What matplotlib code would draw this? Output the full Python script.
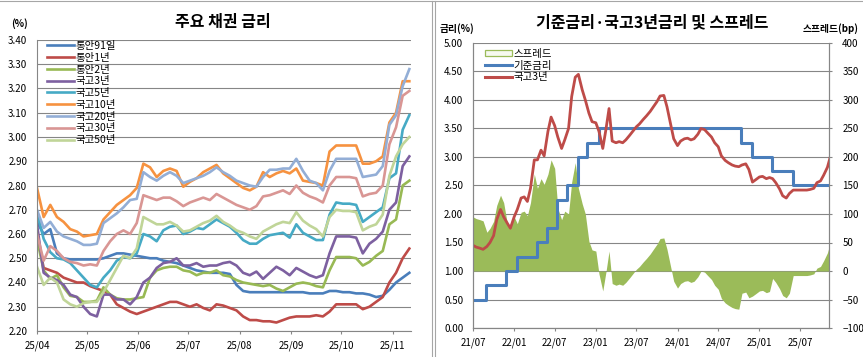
import numpy as np
import pandas as pd
import matplotlib
matplotlib.use('Agg')
import matplotlib.pyplot as plt
import matplotlib.dates as mdates
from matplotlib.patches import Patch
from matplotlib.lines import Line2D
from matplotlib.ticker import FormatStrFormatter

plt.rcParams['font.family'] = ['Noto Sans CJK KR', 'DejaVu Sans']

# ---------------- Left chart data: 주요 채권 금리 (4-day sampling from 2025-04-01) ----------------
left_dates = pd.date_range('2025-04-01', periods=57, freq='4D')

msb_91d = [2.65, 2.60, 2.62, 2.52, 2.50, 2.495, 2.495, 2.495, 2.495, 2.495, 2.50, 2.51, 2.52, 2.52, 2.515, 2.51, 2.505, 2.50, 2.50,
           2.49, 2.485, 2.48, 2.47, 2.46, 2.45, 2.445, 2.44, 2.44, 2.44, 2.435, 2.39, 2.365, 2.36, 2.36, 2.36, 2.36, 2.36, 2.36,
           2.36, 2.36, 2.36, 2.355, 2.355, 2.355, 2.365, 2.365, 2.36, 2.36, 2.355, 2.355, 2.35, 2.34, 2.345, 2.37, 2.40, 2.42, 2.44]
msb_1y = [2.60, 2.46, 2.45, 2.44, 2.42, 2.41, 2.40, 2.40, 2.385, 2.375, 2.365, 2.35, 2.31, 2.295, 2.28, 2.27, 2.28, 2.29, 2.30,
          2.31, 2.32, 2.32, 2.31, 2.30, 2.31, 2.295, 2.285, 2.31, 2.305, 2.295, 2.285, 2.26, 2.245, 2.245, 2.24, 2.24, 2.235, 2.245,
          2.255, 2.26, 2.26, 2.26, 2.265, 2.26, 2.28, 2.31, 2.31, 2.31, 2.31, 2.29, 2.30, 2.32, 2.34, 2.40, 2.44, 2.50, 2.54]
msb_2y = [2.58, 2.45, 2.415, 2.43, 2.38, 2.345, 2.34, 2.32, 2.32, 2.325, 2.38, 2.35, 2.335, 2.33, 2.33, 2.335, 2.34, 2.42, 2.45,
          2.46, 2.465, 2.465, 2.45, 2.445, 2.43, 2.44, 2.44, 2.45, 2.43, 2.425, 2.41, 2.40, 2.395, 2.39, 2.385, 2.39, 2.375, 2.365,
          2.38, 2.395, 2.40, 2.395, 2.385, 2.38, 2.45, 2.505, 2.505, 2.505, 2.50, 2.47, 2.485, 2.51, 2.53, 2.64, 2.66, 2.80, 2.82]
ktb_3y = [2.64, 2.44, 2.42, 2.41, 2.39, 2.35, 2.34, 2.30, 2.27, 2.26, 2.35, 2.35, 2.33, 2.33, 2.31, 2.34, 2.40, 2.42, 2.46,
          2.48, 2.485, 2.50, 2.47, 2.47, 2.48, 2.465, 2.47, 2.47, 2.48, 2.485, 2.47, 2.44, 2.43, 2.445, 2.415, 2.44, 2.465, 2.45,
          2.43, 2.46, 2.445, 2.43, 2.42, 2.43, 2.52, 2.59, 2.59, 2.59, 2.585, 2.52, 2.56, 2.58, 2.61, 2.70, 2.73, 2.88, 2.92]
ktb_5y = [2.69, 2.58, 2.525, 2.50, 2.495, 2.48, 2.45, 2.42, 2.39, 2.38, 2.42, 2.45, 2.49, 2.505, 2.50, 2.52, 2.60, 2.59, 2.57,
          2.615, 2.63, 2.635, 2.60, 2.61, 2.625, 2.62, 2.64, 2.66, 2.645, 2.63, 2.605, 2.575, 2.56, 2.56, 2.58, 2.595, 2.60, 2.605,
          2.585, 2.64, 2.605, 2.59, 2.575, 2.575, 2.68, 2.73, 2.725, 2.725, 2.72, 2.65, 2.67, 2.69, 2.71, 2.83, 2.85, 3.03, 3.09]
ktb_10y = [2.79, 2.67, 2.72, 2.67, 2.65, 2.62, 2.61, 2.59, 2.595, 2.60, 2.66, 2.69, 2.72, 2.74, 2.76, 2.79, 2.89, 2.875, 2.835,
           2.86, 2.87, 2.86, 2.795, 2.815, 2.83, 2.855, 2.87, 2.885, 2.85, 2.83, 2.81, 2.79, 2.78, 2.795, 2.855, 2.835, 2.85, 2.86,
           2.85, 2.87, 2.82, 2.815, 2.81, 2.80, 2.94, 2.965, 2.965, 2.965, 2.965, 2.89, 2.89, 2.90, 2.92, 3.06, 3.10, 3.23, 3.23]
ktb_20y = [2.70, 2.625, 2.65, 2.61, 2.59, 2.58, 2.57, 2.555, 2.555, 2.56, 2.645, 2.665, 2.685, 2.71, 2.74, 2.745, 2.855, 2.835, 2.82,
           2.84, 2.855, 2.84, 2.81, 2.82, 2.83, 2.84, 2.855, 2.875, 2.855, 2.84, 2.82, 2.81, 2.80, 2.795, 2.835, 2.865, 2.865, 2.87,
           2.87, 2.91, 2.86, 2.82, 2.81, 2.78, 2.86, 2.91, 2.91, 2.91, 2.91, 2.835, 2.84, 2.845, 2.88, 3.05, 3.09, 3.21, 3.28]
ktb_30y = [2.60, 2.49, 2.55, 2.53, 2.50, 2.485, 2.48, 2.47, 2.475, 2.47, 2.53, 2.57, 2.60, 2.615, 2.60, 2.645, 2.76, 2.75, 2.74,
           2.75, 2.75, 2.735, 2.715, 2.73, 2.74, 2.75, 2.74, 2.765, 2.75, 2.735, 2.72, 2.71, 2.70, 2.715, 2.755, 2.76, 2.77, 2.78,
           2.765, 2.80, 2.77, 2.755, 2.745, 2.73, 2.80, 2.835, 2.835, 2.835, 2.83, 2.755, 2.765, 2.77, 2.80, 2.97, 3.04, 3.17, 3.19]
ktb_50y = [2.465, 2.39, 2.42, 2.40, 2.33, 2.31, 2.30, 2.315, 2.32, 2.32, 2.36, 2.41, 2.46, 2.51, 2.50, 2.54, 2.67, 2.655, 2.64,
           2.64, 2.65, 2.635, 2.61, 2.615, 2.63, 2.645, 2.655, 2.675, 2.65, 2.635, 2.615, 2.605, 2.59, 2.58, 2.61, 2.625, 2.64, 2.65,
           2.645, 2.69, 2.655, 2.635, 2.62, 2.59, 2.67, 2.70, 2.695, 2.695, 2.69, 2.615, 2.63, 2.64, 2.68, 2.84, 2.92, 2.97, 3.00]

left_names = ['통안91일', '통안1년', '통안2년', '국고3년', '국고5년', '국고10년', '국고20년', '국고30년', '국고50년']
left_series = [msb_91d, msb_1y, msb_2y, ktb_3y, ktb_5y, ktb_10y, ktb_20y, ktb_30y, ktb_50y]
left_colors = ['#4A7EBB', '#BE4B48', '#98B954', '#7D60A0', '#46AAC5', '#F69240', '#93AED6', '#D99694', '#C0D598']

# ---------------- Right chart data: 기준금리·국고3년금리 및 스프레드 ----------------
t3_dates = pd.date_range('2021-07-01', periods=106, freq='SMS')
ktb3 = [1.45, 1.42, 1.40, 1.38, 1.43, 1.50, 1.62, 1.90, 2.08, 1.95,
        1.84, 1.75, 1.95, 2.08, 2.28, 2.30, 2.22, 2.45, 2.95, 2.95,
        3.12, 3.02, 3.45, 3.70, 3.55, 3.35, 3.15, 3.30, 3.50, 4.06,
        4.40, 4.45, 4.18, 4.00, 3.77, 3.62, 3.60, 3.45, 3.15, 3.48,
        3.85, 3.28, 3.25, 3.27, 3.25, 3.30, 3.38, 3.45, 3.53, 3.58,
        3.66, 3.72, 3.80, 3.88, 3.97, 4.07, 4.08, 3.88, 3.58, 3.32,
        3.20, 3.28, 3.32, 3.33, 3.30, 3.32, 3.40, 3.50, 3.48, 3.42,
        3.35, 3.25, 3.18, 3.02, 2.94, 2.90, 2.86, 2.84, 2.83, 2.86,
        2.88, 2.78, 2.56, 2.60, 2.65, 2.66, 2.62, 2.64, 2.62, 2.55,
        2.44, 2.32, 2.28, 2.36, 2.42, 2.42, 2.42, 2.42, 2.42, 2.43,
        2.45, 2.55, 2.58, 2.68, 2.82, 3.02]

rate_dates = pd.to_datetime(['2021-07-01', '2021-08-26', '2021-11-25', '2022-01-14', '2022-04-14', '2022-05-26',
                             '2022-07-13', '2022-08-25', '2022-10-12', '2022-11-24', '2023-01-13', '2024-10-11',
                             '2024-11-28', '2025-02-25', '2025-05-29', '2025-11-15'])
rate_levels = [0.50, 0.75, 1.00, 1.25, 1.50, 1.75, 2.25, 2.50, 3.00, 3.25, 3.50, 3.25, 3.00, 2.75, 2.50, 2.50]

# spread (bp) = 국고3년 - 기준금리
idx = np.searchsorted(rate_dates.values, t3_dates.values, side='right') - 1
base_at = np.array(rate_levels)[idx]
spread = (np.array(ktb3) - base_at) * 100

# ---------------- Figure ----------------
W, H = 863, 357
fig = plt.figure(figsize=(W / 100, H / 100), dpi=100)


def fx(px):
    return px / W


def fy(py):
    return 1 - py / H


GRID = '#868686'
FS = 7

# ---- Left chart ----
ax1 = fig.add_axes([fx(37), fy(331), (411 - 37) / W, (331 - 40) / H])
for name, vals, c in zip(left_names, left_series, left_colors):
    ax1.plot(left_dates, vals, color=c, lw=1.9, label=name, solid_joinstyle='round')
ax1.set_ylim(2.2, 3.4)
ax1.set_yticks(np.round(np.arange(2.2, 3.401, 0.1), 2))
ax1.yaxis.set_major_formatter(FormatStrFormatter('%.2f'))
ax1.set_xlim(pd.Timestamp('2025-04-01'), pd.Timestamp('2025-11-12'))
ax1.xaxis.set_major_locator(mdates.MonthLocator())
ax1.xaxis.set_major_formatter(mdates.DateFormatter('%y/%m'))
ax1.grid(axis='y', color=GRID, lw=0.8)
ax1.set_axisbelow(True)
for s in ['top', 'right']:
    ax1.spines[s].set_visible(False)
for s in ['left', 'bottom']:
    ax1.spines[s].set_color(GRID)
    ax1.spines[s].set_linewidth(0.8)
ax1.tick_params(axis='y', length=0, pad=7, labelsize=FS)
ax1.tick_params(axis='x', length=2.5, width=0.8, color=GRID, pad=4, labelsize=FS)
ax1.legend(loc='upper left', bbox_to_anchor=(fx(47), fy(41)), bbox_transform=fig.transFigure,
           frameon=False, fontsize=7.5, handlelength=2.6, handletextpad=0.1, labelspacing=0.17,
           borderpad=0, borderaxespad=0)
fig.text(fx(223), fy(22), '주요 채권 금리', ha='center', va='center', fontsize=11.5, fontweight='bold')
fig.text(fx(19), fy(24), '(%)', ha='center', va='center', fontsize=7, fontweight='bold')

# ---- Right chart ----
ax = fig.add_axes([fx(473), fy(328), (829 - 473) / W, (328 - 43) / H])
ax2 = ax.twinx()
ax.set_zorder(2)
ax2.set_zorder(1)
ax.patch.set_visible(False)

ax2.fill_between(t3_dates, spread, 0, color='#9BBB59', lw=0)
ax2.set_ylim(-100, 400)
ax2.set_yticks(np.arange(-100, 401, 50))
ax2.grid(axis='y', color=GRID, lw=0.8)
ax2.set_axisbelow(True)

ax.step(rate_dates, rate_levels, where='post', color='#4A7EBB', lw=2.2)
ax.plot(t3_dates, ktb3, color='#BE4B48', lw=2.0)
ax.set_ylim(0, 5)
ax.set_yticks(np.round(np.arange(0, 5.01, 0.5), 2))
ax.yaxis.set_major_formatter(FormatStrFormatter('%.2f'))
ax.set_xlim(pd.Timestamp('2021-07-01'), pd.Timestamp('2025-11-08'))
ax.xaxis.set_major_locator(mdates.MonthLocator(bymonth=[1, 7]))
ax.xaxis.set_major_formatter(mdates.DateFormatter('%y/%m'))

for a in (ax, ax2):
    a.spines['top'].set_visible(False)
    for s in ['left', 'bottom', 'right']:
        a.spines[s].set_color(GRID)
        a.spines[s].set_linewidth(0.8)
ax.tick_params(axis='y', length=0, pad=7, labelsize=FS)
ax.tick_params(axis='x', length=2.5, width=0.8, color=GRID, pad=4, labelsize=FS)
ax2.tick_params(axis='y', length=2.5, width=0.8, color=GRID, pad=7, labelsize=FS)

handles = [Patch(facecolor='#F6F9EF', edgecolor='#9BBB59', lw=0.9),
           Line2D([], [], color='#4A7EBB', lw=2.2),
           Line2D([], [], color='#BE4B48', lw=2.2)]
ax.legend(handles, ['스프레드', '기준금리', '국고3년'], loc='upper left',
          bbox_to_anchor=(fx(485), fy(49)), bbox_transform=fig.transFigure,
          frameon=False, fontsize=7.5, handlelength=2.6, handletextpad=0.1, labelspacing=0.15,
          borderpad=0, borderaxespad=0, handleheight=0.55)

fig.text(fx(652), fy(22), '기준금리·국고3년금리 및 스프레드', ha='center', va='center', fontsize=11.5, fontweight='bold')
fig.text(fx(457), fy(29), '금리(%)', ha='center', va='center', fontsize=7, fontweight='bold')
fig.text(fx(831), fy(29), '스프레드(bp)', ha='center', va='center', fontsize=7, fontweight='bold')

# ---- chart frames ----
FRAME = '#A6A6A6'
fig.add_artist(Line2D([0, 1], [fy(1), fy(1)], transform=fig.transFigure, color=FRAME, lw=0.8))
fig.add_artist(Line2D([fx(432), fx(432)], [0, fy(1)], transform=fig.transFigure, color=FRAME, lw=0.8))
fig.add_artist(Line2D([fx(434.5), fx(434.5)], [0, fy(1)], transform=fig.transFigure, color=FRAME, lw=0.8))

fig.savefig('out.png', dpi=100)
